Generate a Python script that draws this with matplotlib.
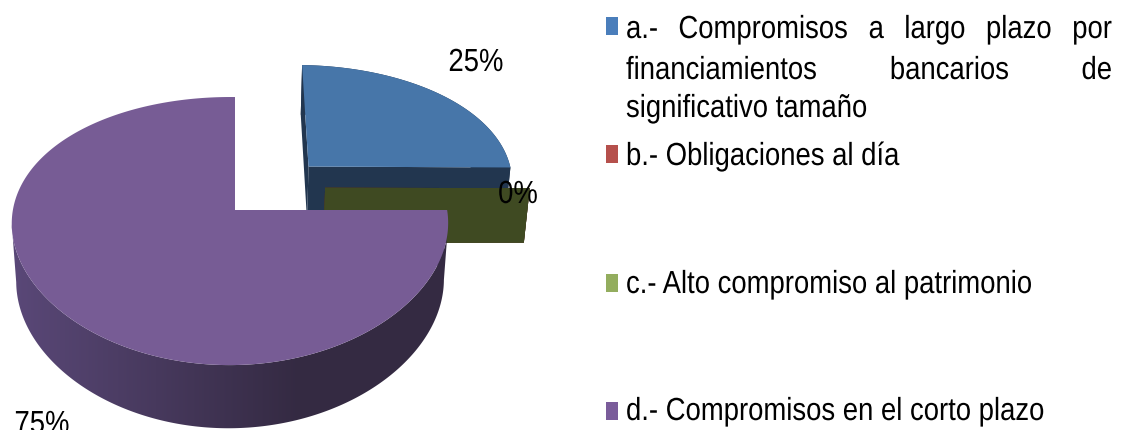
import numpy as np
from matplotlib import pyplot as plt
from matplotlib.colors import to_rgb
from matplotlib.patches import Polygon, Rectangle
from matplotlib.patheffects import AbstractPathEffect
from matplotlib.text import Text
from matplotlib.transforms import Affine2D, Bbox

# data
values = [25, 0, 0, 75]
legend_lines = [[["a.-", "Compromisos", "a", "largo", "plazo", "por"],
                 ["financiamientos", "bancarios", "de"],
                 ["significativo tamaño"]],
                [["b.- Obligaciones al día"]],
                [["c.- Alto compromiso al patrimonio"]],
                [["d.- Compromisos en el corto plazo"]]]

# styles
top_colors = ['#4776a9', '#b5504c', '#5f7336', '#775c95']
cut_colors = ['#22364f', '#5a2624', '#3f4a22', '#4a3a60']
swatch_colors = ['#4a7ebb', '#b5504c', '#93ad5e', '#7a5c9a']
side_light = '#5a4878'
side_dark = '#342a42'
font_family = ['Liberation Sans']
font_size = 23
squeeze = 0.86

# pie geometry, in pixels of the output image
explode = 0.25
origin_x, origin_y = 235, 210
radius_x, radius_y = 217, 130.7
tilt_x, tilt_y, tilt_xy = 0.023, 0.157, 0.10
depth = 56.5
bottom_scale = 0.98


class SqueezeEffect(AbstractPathEffect):
    def __init__(self, artist):
        super().__init__()
        self.artist = artist

    def draw_path(self, renderer, gc, tpath, affine, rgbFace=None):
        anchor = self.artist.anchor_x()
        squeezed = affine + Affine2D().translate(-anchor, 0).scale(squeeze, 1).translate(anchor, 0)
        renderer.draw_path(gc, tpath, squeezed, rgbFace)


class NarrowText(Text):
    # the source text is narrower than any installed font, so scale it in x
    def anchor_x(self):
        return self.get_transform().transform(self.get_position())[0]

    def get_window_extent(self, renderer=None, dpi=None):
        box = super().get_window_extent(renderer, dpi)
        anchor = self.anchor_x()
        return Bbox.from_extents(anchor + (box.x0 - anchor) * squeeze, box.y0,
                                 anchor + (box.x1 - anchor) * squeeze, box.y1)


def add_text(ax, x, y, text, ha='left'):
    item = NarrowText(x, y, text, family=font_family, fontsize=font_size, ha=ha, va='baseline',
                      color='black', transform=ax.transData)
    item.set_path_effects([SqueezeEffect(item)])
    ax.add_artist(item)
    item.set_clip_on(False)
    return item


def project(x, y):
    w_x = 1 + tilt_x * x + tilt_xy * y
    w_y = 1 + tilt_x * x + tilt_y * y
    return origin_x + radius_x * x / w_x, origin_y - radius_y * y / w_y, w_y


def extrude(x, y, w):
    return origin_x + (x - origin_x) * bottom_scale, y + depth * w ** -0.65


def slice_angles():
    shares = np.array(values) / sum(values) * 360
    ends = 90 - np.cumsum(shares)
    starts = ends + shares
    return starts, ends


def slice_apex(index, starts, ends):
    # the last slice sets the origin of the projection
    mid = np.radians((starts + ends) / 2)
    cx = -explode * np.cos(mid[-1])
    cy = -explode * np.sin(mid[-1])
    return cx + explode * np.cos(mid[index]), cy + explode * np.sin(mid[index])


def draw_cut(ax, ax_x, ax_y, angle, color):
    rim_x = ax_x + np.cos(np.radians(angle))
    rim_y = ax_y + np.sin(np.radians(angle))
    x0, y0, w0 = project(ax_x, ax_y)
    x1, y1, w1 = project(rim_x, rim_y)
    x2, y2 = extrude(x1, y1, w1)
    x3, y3 = extrude(x0, y0, w0)
    ax.fill([x0, x1, x2, x3], [y0, y1, y2, y3], color=color, lw=0)


def draw_slice(ax, index, starts, ends):
    ax_x, ax_y = slice_apex(index, starts, ends)
    draw_cut(ax, ax_x, ax_y, starts[index], cut_colors[index])
    draw_cut(ax, ax_x, ax_y, ends[index], cut_colors[index])
    if values[index] == 0:
        return

    angles = np.radians(np.linspace(starts[index], ends[index], 361))
    rim_x, rim_y, rim_w = project(ax_x + np.cos(angles), ax_y + np.sin(angles))
    low_x, low_y = extrude(rim_x, rim_y, rim_w)

    # outer wall, only the front of the rim; the large slice is shaded from left to right
    first, last = np.argmax(rim_x), np.argmin(rim_x)
    front = np.arange(min(first, last), max(first, last) + 1)
    wall = np.column_stack([np.r_[rim_x[front], low_x[front][::-1]],
                            np.r_[rim_y[front], low_y[front][::-1]]])
    if index == len(values) - 1:
        clip = Polygon(wall, closed=True, transform=ax.transData, fc='none', ec='none')
        ax.add_patch(clip)
        light = np.array(to_rgb(side_light))
        dark = np.array(to_rgb(side_dark))
        mix = np.clip((np.linspace(0, 460, 460) - 11) / 290, 0, 1)[None, :, None]
        ramp = light[None, None, :] + (dark - light)[None, None, :] * mix
        ax.imshow(ramp, extent=(0, 460, 430, 0), aspect='auto', zorder=1, clip_path=clip)
    else:
        ax.fill(wall[:, 0], wall[:, 1], color=cut_colors[index], lw=0)

    apex_x, apex_y, _ = project(ax_x, ax_y)
    ax.fill(np.r_[apex_x, rim_x], np.r_[apex_y, rim_y], color=top_colors[index], lw=0)


def draw_justified(ax, fig, words, left, right, baseline):
    items = [add_text(ax, left, baseline, word) for word in words]
    if len(items) == 1:
        return
    renderer = fig.canvas.get_renderer()
    widths = [item.get_window_extent(renderer).width for item in items]
    gap = (right - left - sum(widths)) / (len(items) - 1)
    position = left
    for item, width in zip(items, widths):
        item.set_x(position)
        position += width + gap


fig = plt.figure(figsize=(11.22, 4.3), dpi=100)
ax = fig.add_axes([0, 0, 1, 1])

# pie, back to front
starts, ends = slice_angles()
for index in range(len(values)):
    draw_slice(ax, index, starts, ends)

ax.set_xlim(0, 1122)
ax.set_ylim(430, 0)
ax.axis('off')

# value labels
label_positions = [(476, 71), None, (518, 203), (42, 433)]
for value, position in zip(values, label_positions):
    if position is not None:
        add_text(ax, position[0], position[1], f"{value}%", ha='center')

# legend
swatch_tops = [17, 145, 274, 402]
baselines = [[38, 79, 117], [165], [293], [420]]
for index, lines in enumerate(legend_lines):
    ax.add_patch(Rectangle((606, swatch_tops[index]), 12, 18, color=swatch_colors[index], lw=0))
    for words, baseline in zip(lines, baselines[index]):
        draw_justified(ax, fig, words, 626, 1112, baseline)

fig.savefig('out.png', dpi=100)
plt.close('all')
